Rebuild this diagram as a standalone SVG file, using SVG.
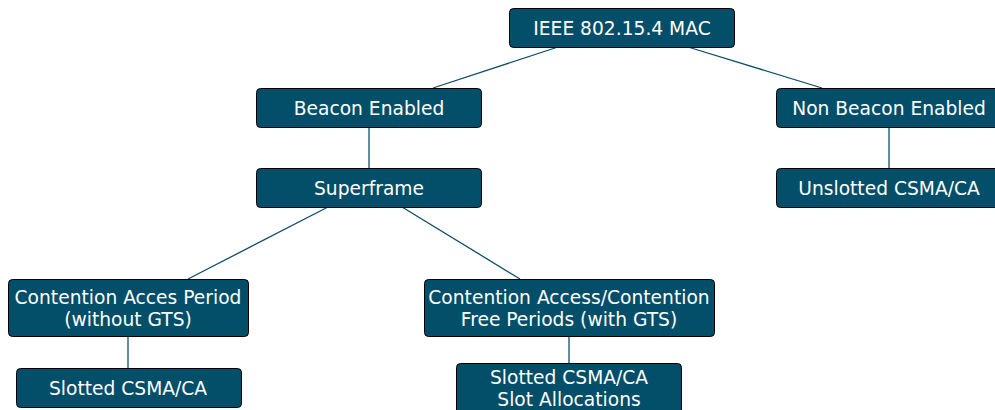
<svg xmlns="http://www.w3.org/2000/svg" width="995" height="410" viewBox="0 0 995 410">
<style>
.n rect{fill:#034e68;stroke:#000;stroke-width:1}
.n text{fill:#fff;font-family:"DejaVu Sans",sans-serif;font-size:18.67px;text-anchor:middle}
.e line{stroke:#0b4f66;stroke-width:1.3}
</style>
<rect width="995" height="410" fill="#fff"/>
<g class="e">
<line x1="558" y1="47" x2="433" y2="88"/>
<line x1="688" y1="47" x2="822" y2="88"/>
<line x1="369" y1="127" x2="369" y2="168"/>
<line x1="889" y1="127" x2="889" y2="168"/>
<line x1="328" y1="207" x2="188" y2="279"/>
<line x1="402" y1="207" x2="520" y2="279"/>
<line x1="128" y1="336" x2="128" y2="368"/>
<line x1="569" y1="336" x2="569" y2="363"/>
</g>
<g id="ieee" class="n"><rect x="509.5" y="8.5" width="225" height="39" rx="4"/><text x="622" y="35">IEEE 802.15.4 MAC</text></g>
<g id="beacon" class="n"><rect x="256.5" y="88.5" width="225" height="39" rx="4"/><text x="369" y="115">Beacon Enabled</text></g>
<g id="nonbeacon" class="n"><rect x="776.5" y="88.5" width="225" height="39" rx="4"/><text x="889" y="115">Non Beacon Enabled</text></g>
<g id="superframe" class="n"><rect x="256.5" y="168.5" width="225" height="39" rx="4"/><text x="369" y="195">Superframe</text></g>
<g id="unslotted" class="n"><rect x="776.5" y="168.5" width="225" height="39" rx="4"/><text x="889" y="195">Unslotted CSMA/CA</text></g>
<g id="cap" class="n"><rect x="8.5" y="279.5" width="240" height="57" rx="4"/><text x="128" y="304">Contention Acces Period</text><text x="128" y="326">(without GTS)</text></g>
<g id="cfp" class="n"><rect x="424.5" y="279.5" width="290" height="57" rx="4"/><text x="569" y="304">Contention Access/Contention</text><text x="569" y="326">Free Periods (with GTS)</text></g>
<g id="slotted1" class="n"><rect x="16.5" y="368.5" width="225" height="39" rx="4"/><text x="128" y="395">Slotted CSMA/CA</text></g>
<g id="slotted2" class="n"><rect x="456.5" y="363.5" width="225" height="54" rx="4"/><text x="569" y="384">Slotted CSMA/CA</text><text x="569" y="406">Slot Allocations</text></g>
</svg>
